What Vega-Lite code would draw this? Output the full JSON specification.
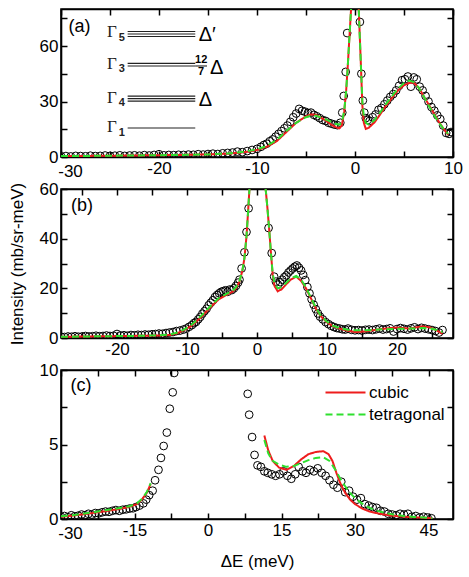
{
"$schema": "https://vega.github.io/schema/vega-lite/v6.json",
"padding": {"left": 7, "top": 7, "right": 2, "bottom": 5},
"bounds": "flush",
"spacing": 32,
"config": {
 "font": "Liberation Sans",
 "view": {"stroke": "black", "strokeWidth": 1.6},
 "axis": {"labelFont": "Liberation Sans", "labelFontSize": 17, "labelColor": "black", "labelFlush": false, "labelOverlap": false, "tickColor": "black", "tickWidth": 1.5, "tickSize": -6, "domainColor": "black", "domainWidth": 1.6, "grid": false, "labelPadding": 9, "titleFont": "Liberation Sans", "titleFontSize": 17, "titleFontWeight": "normal", "titleColor": "black"},
 "axisBottom": {"labelPadding": {"condition": {"test": "datum.value === -30", "value": 12}, "value": 9}, "labelOffset": {"condition": {"test": "datum.value === -30", "value": 9}, "value": 0}}
},
"datasets": {
 "a_pts": [
  {"x":-30,"y":0.4},{"x":-29.5,"y":0.5},{"x":-29,"y":0.3},{"x":-28.5,"y":0.6},{"x":-28,"y":0.5},{"x":-27.5,"y":0.4},{"x":-27,"y":0.7},{"x":-26.5,"y":0.5},{"x":-26,"y":0.6},{"x":-25.5,"y":0.8},{"x":-25,"y":0.6},{"x":-24.5,"y":0.7},{"x":-24,"y":0.9},{"x":-23.5,"y":0.6},{"x":-23,"y":0.8},{"x":-22.5,"y":0.9},{"x":-22,"y":0.7},{"x":-21.5,"y":1.0},{"x":-21,"y":0.8},{"x":-20.5,"y":1.1},{"x":-20,"y":1.5},{"x":-19.5,"y":0.9},{"x":-19,"y":1.1},{"x":-18.5,"y":1.0},{"x":-18,"y":1.2},{"x":-17.5,"y":1.1},{"x":-17,"y":1.3},{"x":-16.5,"y":1.2},{"x":-16,"y":1.5},{"x":-15.5,"y":1.3},{"x":-15,"y":1.6},{"x":-14.5,"y":1.8},{"x":-14,"y":1.6},{"x":-13.5,"y":2.0},{"x":-13,"y":2.2},{"x":-12.5,"y":2.4},{"x":-12,"y":2.9},{"x":-11.5,"y":2.6},{"x":-11,"y":3.2},{"x":-10.5,"y":3.8},{"x":-10,"y":4.4},{"x":-9.6,"y":5.5},{"x":-9.3,"y":6.5},{"x":-9,"y":7.2},{"x":-8.7,"y":8.5},{"x":-8.4,"y":9.5},{"x":-8.1,"y":11},{"x":-7.8,"y":12.5},{"x":-7.5,"y":14},{"x":-7.2,"y":15.5},{"x":-6.9,"y":17},{"x":-6.6,"y":19},{"x":-6.3,"y":21.5},{"x":-6,"y":23.5},{"x":-5.7,"y":26},{"x":-5.4,"y":25},{"x":-5.1,"y":24.5},{"x":-4.8,"y":23.8},{"x":-4.5,"y":24},{"x":-4.2,"y":22.8},{"x":-3.9,"y":22},{"x":-3.6,"y":21},{"x":-3.3,"y":20},{"x":-3,"y":19.5},{"x":-2.7,"y":18.5},{"x":-2.4,"y":18},{"x":-2.1,"y":17.5},{"x":-1.8,"y":17.2},{"x":-1.5,"y":18.5},{"x":-1.3,"y":24},{"x":-1.15,"y":33},{"x":-0.95,"y":46},{"x":-0.8,"y":67},{"x":0.5,"y":73},{"x":0.65,"y":45},{"x":0.8,"y":30.5},{"x":0.95,"y":24},{"x":1.1,"y":21},{"x":1.3,"y":20},{"x":1.5,"y":19.5},{"x":1.8,"y":21.5},{"x":2.1,"y":23},{"x":2.4,"y":25.5},{"x":2.7,"y":26.5},{"x":3,"y":28.5},{"x":3.3,"y":30.5},{"x":3.6,"y":32.5},{"x":3.9,"y":34},{"x":4.2,"y":36},{"x":4.5,"y":38.5},{"x":4.8,"y":41.5},{"x":5.1,"y":42},{"x":5.4,"y":43.5},{"x":5.7,"y":38},{"x":6,"y":43},{"x":6.3,"y":42},{"x":6.6,"y":38},{"x":6.9,"y":36},{"x":7.2,"y":33},{"x":7.5,"y":30},{"x":7.8,"y":27},{"x":8.1,"y":25},{"x":8.4,"y":22.5},{"x":8.7,"y":20.5},{"x":9,"y":17},{"x":9.3,"y":13},{"x":9.6,"y":12.5},{"x":9.8,"y":13.5}
 ],
 "a_fit": [
  {"model":"cubic","x":-30,"y":0.5},{"model":"cubic","x":-27,"y":0.6},{"model":"cubic","x":-24,"y":0.75},{"model":"cubic","x":-21,"y":0.9},{"model":"cubic","x":-18,"y":1.1},{"model":"cubic","x":-15,"y":1.4},{"model":"cubic","x":-13,"y":1.8},{"model":"cubic","x":-12,"y":2.2},{"model":"cubic","x":-11,"y":2.8},{"model":"cubic","x":-10,"y":3.8},{"model":"cubic","x":-9,"y":5.5},{"model":"cubic","x":-8,"y":8.5},{"model":"cubic","x":-7,"y":13.5},{"model":"cubic","x":-6,"y":18.5},{"model":"cubic","x":-5,"y":22},{"model":"cubic","x":-4.5,"y":23},{"model":"cubic","x":-4,"y":22.8},{"model":"cubic","x":-3.5,"y":21.3},{"model":"cubic","x":-3,"y":19.8},{"model":"cubic","x":-2.5,"y":17.8},{"model":"cubic","x":-2,"y":16.2},{"model":"cubic","x":-1.6,"y":15.5},{"model":"cubic","x":-1.35,"y":17},{"model":"cubic","x":-1.1,"y":24.5},{"model":"cubic","x":-0.9,"y":36},{"model":"cubic","x":-0.75,"y":48},{"model":"cubic","x":-0.6,"y":62},{"model":"cubic","x":-0.4,"y":80},{"model":"cubic","x":-0.2,"y":110},{"model":"cubic","x":0,"y":130},{"model":"cubic","x":0.2,"y":115},{"model":"cubic","x":0.38,"y":80},{"model":"cubic","x":0.6,"y":50},{"model":"cubic","x":0.75,"y":28},{"model":"cubic","x":0.9,"y":18.5},{"model":"cubic","x":1.1,"y":15.2},{"model":"cubic","x":1.4,"y":15.8},{"model":"cubic","x":2,"y":18.8},{"model":"cubic","x":2.5,"y":22.5},{"model":"cubic","x":3,"y":26.5},{"model":"cubic","x":3.5,"y":30},{"model":"cubic","x":4,"y":33.5},{"model":"cubic","x":4.5,"y":36.5},{"model":"cubic","x":5,"y":38.8},{"model":"cubic","x":5.5,"y":40},{"model":"cubic","x":6,"y":40.2},{"model":"cubic","x":6.5,"y":37.5},{"model":"cubic","x":7,"y":33},{"model":"cubic","x":7.5,"y":28.5},{"model":"cubic","x":8,"y":24},{"model":"cubic","x":8.5,"y":19.5},{"model":"cubic","x":9,"y":15.5},{"model":"cubic","x":9.5,"y":12},
  {"model":"tetragonal","x":-30,"y":0.5},{"model":"tetragonal","x":-27,"y":0.6},{"model":"tetragonal","x":-24,"y":0.75},{"model":"tetragonal","x":-21,"y":0.9},{"model":"tetragonal","x":-18,"y":1.1},{"model":"tetragonal","x":-15,"y":1.4},{"model":"tetragonal","x":-13,"y":1.9},{"model":"tetragonal","x":-12,"y":2.4},{"model":"tetragonal","x":-11,"y":3.1},{"model":"tetragonal","x":-10,"y":4.2},{"model":"tetragonal","x":-9,"y":6},{"model":"tetragonal","x":-8,"y":9.2},{"model":"tetragonal","x":-7,"y":14},{"model":"tetragonal","x":-6,"y":18.5},{"model":"tetragonal","x":-5,"y":21.5},{"model":"tetragonal","x":-4.5,"y":22.3},{"model":"tetragonal","x":-4,"y":22.3},{"model":"tetragonal","x":-3.5,"y":21.4},{"model":"tetragonal","x":-3,"y":20.3},{"model":"tetragonal","x":-2.5,"y":19.2},{"model":"tetragonal","x":-2,"y":18},{"model":"tetragonal","x":-1.6,"y":17.5},{"model":"tetragonal","x":-1.35,"y":18.5},{"model":"tetragonal","x":-1.1,"y":25},{"model":"tetragonal","x":-0.9,"y":36},{"model":"tetragonal","x":-0.75,"y":48},{"model":"tetragonal","x":-0.6,"y":62},{"model":"tetragonal","x":-0.4,"y":80},{"model":"tetragonal","x":-0.2,"y":110},{"model":"tetragonal","x":0,"y":130},{"model":"tetragonal","x":0.2,"y":115},{"model":"tetragonal","x":0.38,"y":80},{"model":"tetragonal","x":0.6,"y":50},{"model":"tetragonal","x":0.75,"y":30},{"model":"tetragonal","x":0.9,"y":22},{"model":"tetragonal","x":1.1,"y":18.5},{"model":"tetragonal","x":1.4,"y":17.5},{"model":"tetragonal","x":2,"y":20},{"model":"tetragonal","x":2.5,"y":23.5},{"model":"tetragonal","x":3,"y":27.5},{"model":"tetragonal","x":3.5,"y":31},{"model":"tetragonal","x":4,"y":34.5},{"model":"tetragonal","x":4.5,"y":37.5},{"model":"tetragonal","x":5,"y":40},{"model":"tetragonal","x":5.5,"y":41.3},{"model":"tetragonal","x":6,"y":40.5},{"model":"tetragonal","x":6.5,"y":37.5},{"model":"tetragonal","x":7,"y":33},{"model":"tetragonal","x":7.5,"y":28},{"model":"tetragonal","x":8,"y":23.5},{"model":"tetragonal","x":8.5,"y":19},{"model":"tetragonal","x":9,"y":15.5},{"model":"tetragonal","x":9.5,"y":12.5}
 ],
 "b_pts": [
  {"x":-28,"y":0.5},{"x":-27.5,"y":0.4},{"x":-27,"y":0.6},{"x":-26.5,"y":0.5},{"x":-26,"y":0.7},{"x":-25.5,"y":0.5},{"x":-25,"y":0.6},{"x":-24.5,"y":0.8},{"x":-24,"y":0.6},{"x":-23.5,"y":0.7},{"x":-23,"y":0.9},{"x":-22.5,"y":0.7},{"x":-22,"y":0.8},{"x":-21.5,"y":1.0},{"x":-21,"y":0.8},{"x":-20.5,"y":0.9},{"x":-20,"y":1.6},{"x":-19.5,"y":1.0},{"x":-19,"y":1.1},{"x":-18.5,"y":0.9},{"x":-18,"y":1.2},{"x":-17.5,"y":1.1},{"x":-17,"y":1.3},{"x":-16.5,"y":1.2},{"x":-16,"y":1.4},{"x":-15.5,"y":1.3},{"x":-15,"y":1.5},{"x":-14.5,"y":1.6},{"x":-14,"y":1.8},{"x":-13.5,"y":1.7},{"x":-13,"y":2.0},{"x":-12.5,"y":2.2},{"x":-12,"y":2.4},{"x":-11.5,"y":2.8},{"x":-11,"y":3.0},{"x":-10.5,"y":3.4},{"x":-10.1,"y":3.8},{"x":-9.7,"y":4.5},{"x":-9.3,"y":5.2},{"x":-9,"y":6.0},{"x":-8.7,"y":6.5},{"x":-8.4,"y":7.5},{"x":-8.1,"y":8.5},{"x":-7.8,"y":9.8},{"x":-7.5,"y":10.8},{"x":-7.2,"y":11.8},{"x":-6.9,"y":13.2},{"x":-6.6,"y":14.2},{"x":-6.3,"y":15.2},{"x":-6,"y":16.5},{"x":-5.7,"y":17.3},{"x":-5.4,"y":18},{"x":-5.1,"y":18.6},{"x":-4.8,"y":18.9},{"x":-4.5,"y":19.2},{"x":-4.2,"y":18.6},{"x":-3.9,"y":19.5},{"x":-3.6,"y":19.3},{"x":-3.3,"y":20},{"x":-3,"y":21},{"x":-2.7,"y":22.3},{"x":-2.5,"y":23.5},{"x":-2.2,"y":28},{"x":-1.8,"y":34.5},{"x":-1.5,"y":42.7},{"x":-1.2,"y":52.2},{"x":1.65,"y":44.3},{"x":2.1,"y":34.2},{"x":2.45,"y":24.7},{"x":2.7,"y":22.7},{"x":3.0,"y":21.5},{"x":3.3,"y":22.5},{"x":3.6,"y":23.5},{"x":3.9,"y":24.5},{"x":4.2,"y":25.2},{"x":4.5,"y":26.4},{"x":4.8,"y":27.2},{"x":5.1,"y":28},{"x":5.4,"y":28.7},{"x":5.7,"y":29.2},{"x":6.0,"y":28.3},{"x":6.3,"y":27.2},{"x":6.6,"y":25.4},{"x":6.9,"y":23.3},{"x":7.2,"y":20.5},{"x":7.5,"y":18},{"x":7.8,"y":15.6},{"x":8.1,"y":13.4},{"x":8.4,"y":11.6},{"x":8.7,"y":9.9},{"x":9.0,"y":8.6},{"x":9.4,"y":7.5},{"x":9.8,"y":6.4},{"x":10.2,"y":5.6},{"x":10.6,"y":4.9},{"x":11,"y":4.4},{"x":11.4,"y":4.0},{"x":11.8,"y":3.8},{"x":12.2,"y":3.5},{"x":12.6,"y":3.4},{"x":13,"y":3.8},{"x":13.5,"y":3.3},{"x":14,"y":3.1},{"x":14.5,"y":3.2},{"x":15,"y":3.0},{"x":15.5,"y":3.3},{"x":16,"y":3.4},{"x":16.5,"y":3.2},{"x":17,"y":3.5},{"x":17.5,"y":3.8},{"x":18,"y":3.4},{"x":18.5,"y":3.6},{"x":19,"y":3.9},{"x":19.5,"y":2.6},{"x":20,"y":3.6},{"x":20.5,"y":4.0},{"x":21,"y":3.7},{"x":21.5,"y":3.4},{"x":22,"y":3.9},{"x":22.5,"y":4.3},{"x":23,"y":3.6},{"x":23.5,"y":4.1},{"x":24,"y":3.8},{"x":24.5,"y":3.5},{"x":25,"y":3.2},{"x":25.5,"y":2.8},{"x":26,"y":2.2},{"x":26.5,"y":3.2}
 ],
 "b_fit": [
  {"model":"cubic","x":-28,"y":0.5},{"model":"cubic","x":-25,"y":0.6},{"model":"cubic","x":-22,"y":0.7},{"model":"cubic","x":-19,"y":0.8},{"model":"cubic","x":-16,"y":0.9},{"model":"cubic","x":-14,"y":1.0},{"model":"cubic","x":-12.5,"y":1.2},{"model":"cubic","x":-11.5,"y":1.8},{"model":"cubic","x":-10.5,"y":3},{"model":"cubic","x":-9.5,"y":4.6},{"model":"cubic","x":-8.5,"y":7},{"model":"cubic","x":-7.5,"y":9.8},{"model":"cubic","x":-6.5,"y":12.8},{"model":"cubic","x":-5.5,"y":15.5},{"model":"cubic","x":-4.5,"y":17.2},{"model":"cubic","x":-3.5,"y":18.6},{"model":"cubic","x":-3,"y":20},{"model":"cubic","x":-2.5,"y":22.7},{"model":"cubic","x":-2.1,"y":27},{"model":"cubic","x":-1.8,"y":32},{"model":"cubic","x":-1.5,"y":41},{"model":"cubic","x":-1.3,"y":49.7},{"model":"cubic","x":-1.1,"y":59},{"model":"cubic","x":-0.8,"y":75},{"model":"cubic","x":0,"y":110},{"model":"cubic","x":0.8,"y":78},{"model":"cubic","x":1.2,"y":61},{"model":"cubic","x":1.5,"y":52},{"model":"cubic","x":1.76,"y":43},{"model":"cubic","x":2,"y":34},{"model":"cubic","x":2.24,"y":25.5},{"model":"cubic","x":2.5,"y":21},{"model":"cubic","x":2.96,"y":18.8},{"model":"cubic","x":3.5,"y":19.6},{"model":"cubic","x":4.1,"y":21.4},{"model":"cubic","x":4.8,"y":23.5},{"model":"cubic","x":5.6,"y":24.7},{"model":"cubic","x":6.3,"y":23},{"model":"cubic","x":7,"y":20},{"model":"cubic","x":7.7,"y":16},{"model":"cubic","x":8.4,"y":11.9},{"model":"cubic","x":9.1,"y":8.8},{"model":"cubic","x":9.9,"y":6.5},{"model":"cubic","x":10.8,"y":4.8},{"model":"cubic","x":11.8,"y":3.8},{"model":"cubic","x":13,"y":2.9},{"model":"cubic","x":14.1,"y":2.4},{"model":"cubic","x":15.3,"y":2.6},{"model":"cubic","x":16.5,"y":3.1},{"model":"cubic","x":18,"y":3.7},{"model":"cubic","x":19.9,"y":4.2},{"model":"cubic","x":21,"y":4.0},{"model":"cubic","x":21.8,"y":3.8},{"model":"cubic","x":22.8,"y":4.3},{"model":"cubic","x":23.7,"y":4.7},{"model":"cubic","x":24.8,"y":4.2},{"model":"cubic","x":25.7,"y":3.0},{"model":"cubic","x":26.5,"y":1.7},
  {"model":"tetragonal","x":-28,"y":0.5},{"model":"tetragonal","x":-25,"y":0.6},{"model":"tetragonal","x":-22,"y":0.7},{"model":"tetragonal","x":-19,"y":0.8},{"model":"tetragonal","x":-16,"y":0.9},{"model":"tetragonal","x":-14,"y":1.1},{"model":"tetragonal","x":-12.5,"y":1.4},{"model":"tetragonal","x":-11.5,"y":2.1},{"model":"tetragonal","x":-10.5,"y":3.3},{"model":"tetragonal","x":-9.5,"y":5},{"model":"tetragonal","x":-8.5,"y":7.5},{"model":"tetragonal","x":-7.5,"y":10.3},{"model":"tetragonal","x":-6.5,"y":13.3},{"model":"tetragonal","x":-5.5,"y":16},{"model":"tetragonal","x":-4.5,"y":17.6},{"model":"tetragonal","x":-3.5,"y":19},{"model":"tetragonal","x":-3,"y":20.5},{"model":"tetragonal","x":-2.5,"y":23},{"model":"tetragonal","x":-2.1,"y":27},{"model":"tetragonal","x":-1.8,"y":32},{"model":"tetragonal","x":-1.5,"y":41},{"model":"tetragonal","x":-1.3,"y":49.7},{"model":"tetragonal","x":-1.1,"y":59},{"model":"tetragonal","x":-0.8,"y":75},{"model":"tetragonal","x":0,"y":110},{"model":"tetragonal","x":0.8,"y":78},{"model":"tetragonal","x":1.2,"y":61},{"model":"tetragonal","x":1.5,"y":52},{"model":"tetragonal","x":1.76,"y":43},{"model":"tetragonal","x":2,"y":34},{"model":"tetragonal","x":2.24,"y":26},{"model":"tetragonal","x":2.5,"y":22},{"model":"tetragonal","x":2.96,"y":20},{"model":"tetragonal","x":3.5,"y":20.5},{"model":"tetragonal","x":4.1,"y":22},{"model":"tetragonal","x":4.8,"y":24},{"model":"tetragonal","x":5.6,"y":25},{"model":"tetragonal","x":6.3,"y":23.5},{"model":"tetragonal","x":7,"y":20.3},{"model":"tetragonal","x":7.7,"y":16.3},{"model":"tetragonal","x":8.4,"y":12.2},{"model":"tetragonal","x":9.1,"y":9},{"model":"tetragonal","x":9.9,"y":6.8},{"model":"tetragonal","x":10.8,"y":5},{"model":"tetragonal","x":11.8,"y":4},{"model":"tetragonal","x":13,"y":3.3},{"model":"tetragonal","x":14.1,"y":3.1},{"model":"tetragonal","x":15.3,"y":3.1},{"model":"tetragonal","x":16.5,"y":3.2},{"model":"tetragonal","x":18,"y":3.5},{"model":"tetragonal","x":19.9,"y":3.7},{"model":"tetragonal","x":21,"y":3.7},{"model":"tetragonal","x":22,"y":3.8},{"model":"tetragonal","x":23.7,"y":4.0},{"model":"tetragonal","x":24.8,"y":3.8},{"model":"tetragonal","x":25.7,"y":3.2},{"model":"tetragonal","x":26.5,"y":2.4}
 ],
 "c_pts": [
  {"x":-30,"y":0.15},{"x":-29.3,"y":0.2},{"x":-28.6,"y":0.12},{"x":-27.9,"y":0.25},{"x":-27.2,"y":0.18},{"x":-26.5,"y":0.22},{"x":-25.8,"y":0.3},{"x":-25.1,"y":0.25},{"x":-24.4,"y":0.35},{"x":-23.7,"y":0.3},{"x":-23,"y":0.4},{"x":-22.3,"y":0.38},{"x":-21.6,"y":0.45},{"x":-20.9,"y":0.5},{"x":-20.2,"y":0.48},{"x":-19.5,"y":0.55},{"x":-18.8,"y":0.6},{"x":-18.1,"y":0.55},{"x":-17.4,"y":0.62},{"x":-16.7,"y":0.65},{"x":-16,"y":0.7},{"x":-15.3,"y":0.72},{"x":-14.7,"y":0.8},{"x":-14,"y":0.9},{"x":-13.2,"y":1.05},{"x":-12.6,"y":1.3},{"x":-12,"y":1.6},{"x":-11.3,"y":1.9},{"x":-10.8,"y":2.6},{"x":-10.1,"y":3.3},{"x":-9.6,"y":4.1},{"x":-9.05,"y":4.9},{"x":-8.4,"y":5.8},{"x":-7.8,"y":7.4},{"x":-7.2,"y":8.5},{"x":-6.9,"y":9.8},
  {"x":8.1,"y":8.4},{"x":8.4,"y":7.0},{"x":9.0,"y":5.5},{"x":9.5,"y":4.3},{"x":10.1,"y":3.6},{"x":10.8,"y":3.5},{"x":11.5,"y":3.2},{"x":12.2,"y":3.1},{"x":13,"y":3.0},{"x":13.8,"y":2.9},{"x":14.6,"y":3.0},{"x":15.4,"y":3.2},{"x":16.2,"y":2.9},{"x":17,"y":2.7},{"x":17.8,"y":3.0},{"x":18.5,"y":3.5},{"x":19.3,"y":3.2},{"x":20,"y":3.1},{"x":20.8,"y":3.3},{"x":21.6,"y":3.2},{"x":22.4,"y":3.4},{"x":23.2,"y":3.1},{"x":24,"y":2.9},{"x":24.8,"y":2.6},{"x":25.6,"y":2.3},{"x":26.4,"y":2.1},{"x":27.2,"y":2.5},{"x":28,"y":1.8},{"x":28.8,"y":1.9},{"x":29.6,"y":1.5},{"x":30.4,"y":1.3},{"x":31.2,"y":1.4},{"x":32,"y":1.0},{"x":32.8,"y":0.9},{"x":33.6,"y":0.8},{"x":34.4,"y":0.75},{"x":35.2,"y":0.55},{"x":36,"y":0.5},{"x":36.8,"y":0.35},{"x":37.6,"y":0.3},{"x":38.4,"y":0.25},{"x":39.2,"y":0.35},{"x":40,"y":0.3},{"x":40.8,"y":0.35},{"x":41.6,"y":0.15},{"x":42.4,"y":0.2},{"x":43.2,"y":0.1},{"x":44,"y":0.15},{"x":44.8,"y":0.1},{"x":45.6,"y":0.05}
 ],
 "c_fit": [
  {"model":"cubic","seg":"L","x":-30,"y":0.15},{"model":"cubic","seg":"L","x":-27,"y":0.25},{"model":"cubic","seg":"L","x":-24,"y":0.38},{"model":"cubic","seg":"L","x":-21,"y":0.52},{"model":"cubic","seg":"L","x":-18,"y":0.68},{"model":"cubic","seg":"L","x":-16,"y":0.82},{"model":"cubic","seg":"L","x":-14.5,"y":1.0},{"model":"cubic","seg":"L","x":-13.5,"y":1.3},{"model":"cubic","seg":"L","x":-12.5,"y":1.75},{"model":"cubic","seg":"L","x":-11.7,"y":2.35},
  {"model":"cubic","seg":"R","x":11.5,"y":5.6},{"model":"cubic","seg":"R","x":12.3,"y":4.6},{"model":"cubic","seg":"R","x":13.2,"y":3.9},{"model":"cubic","seg":"R","x":14.5,"y":3.45},{"model":"cubic","seg":"R","x":16,"y":3.3},{"model":"cubic","seg":"R","x":17.5,"y":3.55},{"model":"cubic","seg":"R","x":19,"y":4.0},{"model":"cubic","seg":"R","x":20.5,"y":4.35},{"model":"cubic","seg":"R","x":22,"y":4.5},{"model":"cubic","seg":"R","x":23.5,"y":4.55},{"model":"cubic","seg":"R","x":24.6,"y":4.35},{"model":"cubic","seg":"R","x":25.4,"y":3.9},{"model":"cubic","seg":"R","x":26.2,"y":3.1},{"model":"cubic","seg":"R","x":27,"y":2.4},{"model":"cubic","seg":"R","x":28,"y":1.75},{"model":"cubic","seg":"R","x":29,"y":1.3},{"model":"cubic","seg":"R","x":30,"y":1.0},{"model":"cubic","seg":"R","x":31.5,"y":0.7},{"model":"cubic","seg":"R","x":33,"y":0.5},{"model":"cubic","seg":"R","x":35,"y":0.35},{"model":"cubic","seg":"R","x":37,"y":0.25},{"model":"cubic","seg":"R","x":39,"y":0.18},{"model":"cubic","seg":"R","x":41,"y":0.13},{"model":"cubic","seg":"R","x":43,"y":0.1},{"model":"cubic","seg":"R","x":45.8,"y":0.05},
  {"model":"tetragonal","seg":"L","x":-30,"y":0.18},{"model":"tetragonal","seg":"L","x":-27,"y":0.28},{"model":"tetragonal","seg":"L","x":-24,"y":0.42},{"model":"tetragonal","seg":"L","x":-21,"y":0.58},{"model":"tetragonal","seg":"L","x":-18,"y":0.74},{"model":"tetragonal","seg":"L","x":-16,"y":0.86},{"model":"tetragonal","seg":"L","x":-14.5,"y":1.05},{"model":"tetragonal","seg":"L","x":-13.5,"y":1.35},{"model":"tetragonal","seg":"L","x":-12.5,"y":1.8},{"model":"tetragonal","seg":"L","x":-11.7,"y":2.4},
  {"model":"tetragonal","seg":"R","x":11.5,"y":5.3},{"model":"tetragonal","seg":"R","x":12.3,"y":4.4},{"model":"tetragonal","seg":"R","x":13.2,"y":3.9},{"model":"tetragonal","seg":"R","x":14.5,"y":3.65},{"model":"tetragonal","seg":"R","x":16,"y":3.5},{"model":"tetragonal","seg":"R","x":17.5,"y":3.55},{"model":"tetragonal","seg":"R","x":19,"y":3.75},{"model":"tetragonal","seg":"R","x":20.5,"y":3.95},{"model":"tetragonal","seg":"R","x":22,"y":4.1},{"model":"tetragonal","seg":"R","x":23.5,"y":4.15},{"model":"tetragonal","seg":"R","x":24.8,"y":3.9},{"model":"tetragonal","seg":"R","x":26,"y":3.3},{"model":"tetragonal","seg":"R","x":27,"y":2.7},{"model":"tetragonal","seg":"R","x":28,"y":2.2},{"model":"tetragonal","seg":"R","x":29,"y":1.75},{"model":"tetragonal","seg":"R","x":30,"y":1.4},{"model":"tetragonal","seg":"R","x":31,"y":1.15},{"model":"tetragonal","seg":"R","x":32,"y":0.9},{"model":"tetragonal","seg":"R","x":34,"y":0.6},{"model":"tetragonal","seg":"R","x":36,"y":0.42},{"model":"tetragonal","seg":"R","x":38,"y":0.28},{"model":"tetragonal","seg":"R","x":40,"y":0.2},{"model":"tetragonal","seg":"R","x":42,"y":0.14},{"model":"tetragonal","seg":"R","x":44,"y":0.1},{"model":"tetragonal","seg":"R","x":45.8,"y":0.05}
 ],
 "a_levels": [
  {"x":-23.2,"x2":-16.3,"y":67.8},{"x":-23.2,"x2":-16.3,"y":66.45},{"x":-23.2,"x2":-16.3,"y":65.1},
  {"x":-23.2,"x2":-16.3,"y":50.6},{"x":-23.2,"x2":-16.3,"y":49.2},
  {"x":-23.2,"x2":-16.3,"y":32.9},{"x":-23.2,"x2":-16.3,"y":31.55},{"x":-23.2,"x2":-16.3,"y":30.2},
  {"x":-23.2,"x2":-16.3,"y":15.7},
  {"x":-16.3,"x2":-15.1,"y":49.2}
 ],
 "a_gamma": [{"x":-24.8,"y":67.3,"label":"Γ"},{"x":-24.8,"y":50.5,"label":"Γ"},{"x":-24.8,"y":32.1,"label":"Γ"},{"x":-24.8,"y":16.2,"label":"Γ"}],
 "a_sub": [{"x":-23.8,"y":64.2,"label":"5"},{"x":-23.8,"y":47.5,"label":"3"},{"x":-23.8,"y":29.1,"label":"4"},{"x":-23.8,"y":13,"label":"1"}],
 "a_delta": [{"x":-15.95,"y":65.8,"label":"Δ′"},{"x":-14.8,"y":48,"label":"Δ"},{"x":-15.95,"y":30.6,"label":"Δ"}],
 "a_frac": [{"x":-15.7,"y":52.6,"label":"12"},{"x":-15.7,"y":46,"label":"7"}],
 "a_tag": [{"x":-28.1,"y":70.5,"label":"(a)"}],
 "b_tag": [{"x":-25,"y":53,"label":"(b)"}],
 "c_tag": [{"x":-25.9,"y":8.9,"label":"(c)"}]
},
"vconcat": [
 {
  "width": 392, "height": 148,
  "layer": [
   {"data": {"name": "a_levels"}, "mark": {"type": "rule", "color": "#222", "strokeWidth": 1.1},
    "encoding": {"x": {"field": "x", "type": "quantitative", "scale": {"domain": [-30, 10], "nice": false, "zero": false}, "axis": null}, "x2": {"field": "x2"}, "y": {"field": "y", "type": "quantitative", "scale": {"domain": [0, 80], "nice": false}, "axis": null}}},
   {"data": {"name": "a_pts"}, "mark": {"type": "point", "shape": "circle", "size": 60, "filled": false, "stroke": "black", "strokeWidth": 1, "opacity": 1, "clip": true},
    "encoding": {
     "x": {"field": "x", "type": "quantitative", "scale": {"domain": [-30, 10], "nice": false, "zero": false}, "axis": {"orient": "bottom", "title": null, "values": [-30,-25,-20,-15,-10,-5,0,5,10], "labelExpr": "datum.value % 10 === 0 ? '' + datum.value : ''"}},
     "y": {"field": "y", "type": "quantitative", "scale": {"domain": [0, 80], "nice": false}, "axis": {"orient": "left", "title": null, "values": [0,15,30,45,60,75], "labelExpr": "datum.value % 30 === 0 ? '' + datum.value : ''"}}}},
   {"data": {"name": "a_fit"}, "mark": {"type": "line", "strokeWidth": 2, "clip": true},
    "encoding": {
     "x": {"field": "x", "type": "quantitative", "scale": {"domain": [-30, 10], "nice": false, "zero": false}, "axis": {"orient": "top", "title": null, "labels": false, "values": [-30,-25,-20,-15,-10,-5,0,5,10]}},
     "y": {"field": "y", "type": "quantitative", "scale": {"domain": [0, 80], "nice": false}, "axis": {"orient": "right", "title": null, "labels": false, "values": [0,15,30,45,60,75]}},
     "color": {"field": "model", "type": "nominal", "scale": {"domain": ["cubic", "tetragonal"], "range": ["#ee1c1c", "#2ee02e"]}, "legend": null},
     "strokeDash": {"field": "model", "type": "nominal", "scale": {"domain": ["cubic", "tetragonal"], "range": [[1, 0], [7, 4]]}, "legend": null}}},
   {"data": {"name": "a_gamma"}, "mark": {"type": "text", "font": "Liberation Serif", "fontSize": 17, "align": "center", "baseline": "middle", "color": "#222"},
    "encoding": {"x": {"field": "x", "type": "quantitative", "scale": {"domain": [-30, 10], "nice": false, "zero": false}, "axis": null}, "y": {"field": "y", "type": "quantitative", "scale": {"domain": [0, 80], "nice": false}, "axis": null}, "text": {"field": "label"}}},
   {"data": {"name": "a_sub"}, "mark": {"type": "text", "font": "Liberation Sans", "fontSize": 11, "fontWeight": "bold", "align": "center", "baseline": "middle", "color": "#222"},
    "encoding": {"x": {"field": "x", "type": "quantitative", "scale": {"domain": [-30, 10], "nice": false, "zero": false}, "axis": null}, "y": {"field": "y", "type": "quantitative", "scale": {"domain": [0, 80], "nice": false}, "axis": null}, "text": {"field": "label"}}},
   {"data": {"name": "a_delta"}, "mark": {"type": "text", "font": "Liberation Sans", "fontSize": 20, "align": "left", "baseline": "middle", "color": "black"},
    "encoding": {"x": {"field": "x", "type": "quantitative", "scale": {"domain": [-30, 10], "nice": false, "zero": false}, "axis": null}, "y": {"field": "y", "type": "quantitative", "scale": {"domain": [0, 80], "nice": false}, "axis": null}, "text": {"field": "label"}}},
   {"data": {"name": "a_frac"}, "mark": {"type": "text", "font": "Liberation Sans", "fontSize": 11, "fontWeight": "bold", "align": "center", "baseline": "middle", "color": "black"},
    "encoding": {"x": {"field": "x", "type": "quantitative", "scale": {"domain": [-30, 10], "nice": false, "zero": false}, "axis": null}, "y": {"field": "y", "type": "quantitative", "scale": {"domain": [0, 80], "nice": false}, "axis": null}, "text": {"field": "label"}}},
   {"data": {"name": "a_tag"}, "mark": {"type": "text", "font": "Liberation Sans", "fontSize": 18, "align": "center", "baseline": "middle", "color": "black"},
    "encoding": {"x": {"field": "x", "type": "quantitative", "scale": {"domain": [-30, 10], "nice": false, "zero": false}, "axis": null}, "y": {"field": "y", "type": "quantitative", "scale": {"domain": [0, 80], "nice": false}, "axis": null}, "text": {"field": "label"}}}
  ],
  "resolve": {"axis": {"x": "independent", "y": "independent"}}
 },
 {
  "width": 392, "height": 149,
  "layer": [
   {"data": {"name": "b_pts"}, "mark": {"type": "point", "shape": "circle", "size": 60, "filled": false, "stroke": "black", "strokeWidth": 1, "opacity": 1, "clip": true},
    "encoding": {
     "x": {"field": "x", "type": "quantitative", "scale": {"domain": [-28, 28], "nice": false, "zero": false}, "axis": {"orient": "bottom", "title": null, "values": [-25,-20,-15,-10,-5,0,5,10,15,20,25], "labelExpr": "datum.value % 10 === 0 ? '' + datum.value : ''"}},
     "y": {"field": "y", "type": "quantitative", "scale": {"domain": [0, 60], "nice": false}, "axis": {"orient": "left", "title": "Intensity (mb/sr-meV)", "titlePadding": 13, "values": [0,10,20,30,40,50,60], "labelExpr": "datum.value % 20 === 0 ? '' + datum.value : ''"}}}},
   {"data": {"name": "b_fit"}, "mark": {"type": "line", "strokeWidth": 2, "clip": true},
    "encoding": {
     "x": {"field": "x", "type": "quantitative", "scale": {"domain": [-28, 28], "nice": false, "zero": false}, "axis": {"orient": "top", "title": null, "labels": false, "values": [-25,-20,-15,-10,-5,0,5,10,15,20,25]}},
     "y": {"field": "y", "type": "quantitative", "scale": {"domain": [0, 60], "nice": false}, "axis": {"orient": "right", "title": null, "labels": false, "values": [0,10,20,30,40,50,60]}},
     "color": {"field": "model", "type": "nominal", "scale": {"domain": ["cubic", "tetragonal"], "range": ["#ee1c1c", "#2ee02e"]}, "legend": null},
     "strokeDash": {"field": "model", "type": "nominal", "scale": {"domain": ["cubic", "tetragonal"], "range": [[1, 0], [7, 4]]}, "legend": null}}},
   {"data": {"name": "b_tag"}, "mark": {"type": "text", "font": "Liberation Sans", "fontSize": 18, "align": "center", "baseline": "middle", "color": "black"},
    "encoding": {"x": {"field": "x", "type": "quantitative", "scale": {"domain": [-28, 28], "nice": false, "zero": false}, "axis": null}, "y": {"field": "y", "type": "quantitative", "scale": {"domain": [0, 60], "nice": false}, "axis": null}, "text": {"field": "label"}}}
  ],
  "resolve": {"axis": {"x": "independent", "y": "independent"}}
 },
 {
  "width": 392, "height": 149,
  "layer": [
   {"data": {"name": "c_pts"}, "mark": {"type": "point", "shape": "circle", "size": 60, "filled": false, "stroke": "black", "strokeWidth": 1, "opacity": 1, "clip": true},
    "encoding": {
     "x": {"field": "x", "type": "quantitative", "scale": {"domain": [-30, 50], "nice": false, "zero": false}, "axis": {"orient": "bottom", "title": "ΔE (meV)", "titlePadding": 12, "values": [-30,-22.5,-15,-7.5,0,7.5,15,22.5,30,37.5,45], "labelExpr": "datum.value % 15 === 0 ? '' + datum.value : ''"}},
     "y": {"field": "y", "type": "quantitative", "scale": {"domain": [0, 10], "nice": false}, "axis": {"orient": "left", "title": null, "values": [0,2.5,5,7.5,10], "labelExpr": "datum.value % 5 === 0 ? '' + datum.value : ''"}}}},
   {"data": {"name": "c_fit"}, "mark": {"type": "line", "strokeWidth": 2, "clip": true},
    "encoding": {
     "x": {"field": "x", "type": "quantitative", "scale": {"domain": [-30, 50], "nice": false, "zero": false}, "axis": {"orient": "top", "title": null, "labels": false, "values": [-30,-22.5,-15,-7.5,0,7.5,15,22.5,30,37.5,45]}},
     "y": {"field": "y", "type": "quantitative", "scale": {"domain": [0, 10], "nice": false}, "axis": {"orient": "right", "title": null, "labels": false, "values": [0,2.5,5,7.5,10]}},
     "detail": {"field": "seg"},
     "color": {"field": "model", "type": "nominal", "scale": {"domain": ["cubic", "tetragonal"], "range": ["#ee1c1c", "#2ee02e"]}, "legend": {"orient": "none", "legendX": 273, "legendY": 11, "title": null, "symbolType": "M-2,0H2", "symbolSize": 400, "symbolStrokeWidth": 2.2, "labelFontSize": 17, "labelFont": "Liberation Sans", "labelColor": "black", "labelOffset": 12, "rowPadding": 2, "padding": 0}},
     "strokeDash": {"field": "model", "type": "nominal", "scale": {"domain": ["cubic", "tetragonal"], "range": [[1, 0], [7, 4]]}, "legend": {"orient": "none", "legendX": 273, "legendY": 11, "title": null, "symbolType": "M-2,0H2", "symbolSize": 400, "symbolStrokeWidth": 2.2, "labelFontSize": 17, "labelFont": "Liberation Sans", "labelColor": "black", "labelOffset": 12, "rowPadding": 2, "padding": 0}}}},
   {"data": {"name": "c_tag"}, "mark": {"type": "text", "font": "Liberation Sans", "fontSize": 18, "align": "center", "baseline": "middle", "color": "black"},
    "encoding": {"x": {"field": "x", "type": "quantitative", "scale": {"domain": [-30, 50], "nice": false, "zero": false}, "axis": null}, "y": {"field": "y", "type": "quantitative", "scale": {"domain": [0, 10], "nice": false}, "axis": null}, "text": {"field": "label"}}}
  ],
  "resolve": {"axis": {"x": "independent", "y": "independent"}}
 }
],
"resolve": {"scale": {"color": "independent", "strokeDash": "independent"}, "legend": {"color": "independent", "strokeDash": "independent"}}
}
